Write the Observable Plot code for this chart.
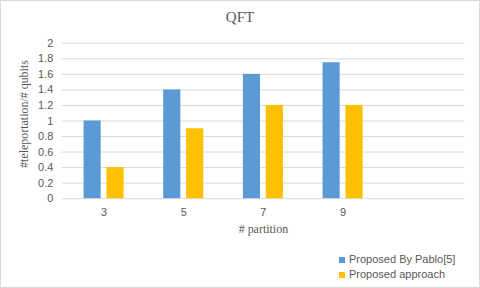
<!DOCTYPE html>
<html>
<head>
<meta charset="utf-8">
<script src="https://cdn.jsdelivr.net/npm/d3@7"></script>
<script src="https://cdn.jsdelivr.net/npm/@observablehq/plot@0.6"></script>
<style>
  html, body { margin: 0; padding: 0; background: #fff; }
  #wrap { position: relative; width: 478px; height: 286px; border: 1px solid #d9d9d9; background: #fff; overflow: hidden; }
  #wrap svg { position: absolute; left: -1px; top: -1px; }
  .title { position: absolute; left: 0; width: 478px; top: 8px; text-align: center; font-family: "Liberation Serif", serif; font-size: 15px; color: #595959; }
  .legend { position: absolute; left: 338px; top: 251px; font-family: "Liberation Sans", sans-serif; font-size: 11px; color: #595959; line-height: 15px; }
  .legend span.sw { display: inline-block; width: 6px; height: 6px; margin-right: 4px; vertical-align: 0px; }
</style>
</head>
<body>
<div id="wrap">
  <div class="title">QFT</div>
  <div class="legend" id="legend"></div>
</div>
<script>
const categories = ["3", "5", "7", "9", ""];
const seriesNames = ["Proposed By Pablo[5]", "Proposed approach"];
const pabloValues = [1.0, 1.4, 1.6, 1.75];
const approachValues = [0.4, 0.9, 1.2, 1.2];
const colors = ["#5B9BD5", "#FFC000"];
const yTicks = [0, 0.2, 0.4, 0.6, 0.8, 1, 1.2, 1.4, 1.6, 1.8, 2];

const rows = [];
categories.slice(0, 4).forEach((c, i) => {
  rows.push({cat: c, series: seriesNames[0], value: pabloValues[i]});
  rows.push({cat: c, series: seriesNames[1], value: approachValues[i]});
});

const chart = Plot.plot({
  width: 480,
  height: 288,
  marginLeft: 62,
  marginRight: 14,
  marginTop: 43,
  marginBottom: 89,
  style: {fontFamily: "Liberation Sans, sans-serif", fontSize: "11px", color: "#595959", background: "transparent"},
  x: {type: "band", domain: categories, padding: 0, label: null},
  y: {domain: [0, 2], label: null},
  color: {domain: seriesNames, range: colors},
  marks: [
    Plot.ruleY(yTicks, {stroke: "#d9d9d9", strokeWidth: 1}),
    Plot.barY(rows.filter(d => d.series === seriesNames[0]), {x: "cat", y: "value", fill: "series", insetLeft: 31.4, insetRight: 31.4, dx: -11.5}),
    Plot.barY(rows.filter(d => d.series === seriesNames[1]), {x: "cat", y: "value", fill: "series", insetLeft: 31.4, insetRight: 31.4, dx: 11.5}),
    Plot.axisY({ticks: yTicks, tickSize: 0, tickPadding: 9, tickFormat: d => String(d), label: null, fill: "#595959"}),
    Plot.axisX({tickSize: 0, tickPadding: 10, label: null, fill: "#595959"}),
    Plot.text(["#teleportation/# qubits"], {frameAnchor: "left", textAnchor: "middle", dx: -38, dy: -7, rotate: -90, fontFamily: "Liberation Serif, serif", fontSize: 12, fill: "#595959"}),
    Plot.text(["# partition"], {frameAnchor: "bottom", dy: 34, fontFamily: "Liberation Serif, serif", fontSize: 12, fill: "#595959"})
  ]
});
document.getElementById("wrap").appendChild(chart);

const legend = document.getElementById("legend");
seriesNames.forEach((s, i) => {
  const row = document.createElement("div");
  const sw = document.createElement("span");
  sw.className = "sw";
  sw.style.background = colors[i];
  row.appendChild(sw);
  row.appendChild(document.createTextNode(s));
  legend.appendChild(row);
});
</script>
</body>
</html>
